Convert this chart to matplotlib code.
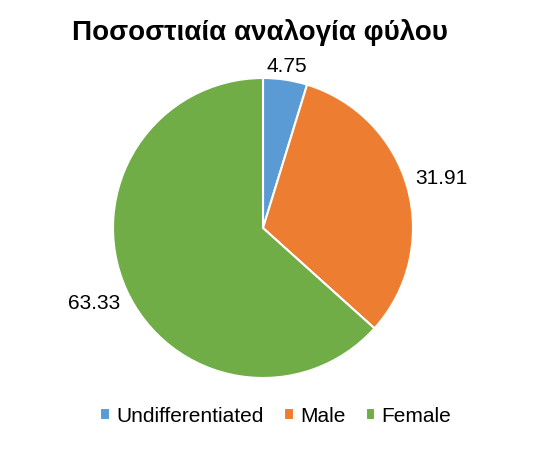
import numpy as np
import matplotlib
matplotlib.use("Agg")
import matplotlib.pyplot as plt

plt.rcParams["font.family"] = ["Liberation Sans", "DejaVu Sans"]

TITLE = "Ποσοστιαία αναλογία φύλου"
categories = ["Undifferentiated", "Male", "Female"]
values = [4.75, 31.91, 63.33]
colors = ["#5B9BD5", "#ED7D31", "#70AD47"]

fig = plt.figure(figsize=(5.41, 4.5), dpi=100)
fig.patch.set_facecolor("white")

# pie axes: centre ~(263, 228) px, radius ~150 px
ax = fig.add_axes([113 / 541, 72 / 450, 300 / 541, 300 / 450])
wedges, _ = ax.pie(values, colors=colors, startangle=90, counterclock=False,
                   radius=1.0, wedgeprops=dict(edgecolor="white", linewidth=1.5))
ax.set_xlim(-1, 1)
ax.set_ylim(-1, 1)
ax.set_aspect("equal")
ax.axis("off")

# value labels just outside each slice, pushed out by their own size
fig.canvas.draw()
renderer = fig.canvas.get_renderer()
px_per_unit = ax.transData.transform((1, 0))[0] - ax.transData.transform((0, 0))[0]
for w, v in zip(wedges, values):
    ang = np.deg2rad((w.theta1 + w.theta2) / 2)
    t = ax.text(0, 0, f"{v:.2f}", ha="center", va="center", fontsize=15)
    bb = t.get_window_extent(renderer)
    hw = bb.width / 2 / px_per_unit
    hh = bb.height / 2 / px_per_unit
    r = 1.0 + 1.3 * hw * abs(np.cos(ang)) + hh * abs(np.sin(ang))
    t.set_position((r * np.cos(ang), r * np.sin(ang)))

fig.text(0.48, 1 - 32 / 450, TITLE, ha="center", va="center",
         fontsize=20, fontweight="bold")

leg = fig.legend(wedges, categories, loc="center", bbox_to_anchor=(0.51, 1 - 416 / 450),
                 ncol=3, frameon=False, fontsize=15, handlelength=0.45,
                 handleheight=0.45, handletextpad=0.3, columnspacing=1.0)

fig.savefig("out.png", dpi=100, facecolor="white")
